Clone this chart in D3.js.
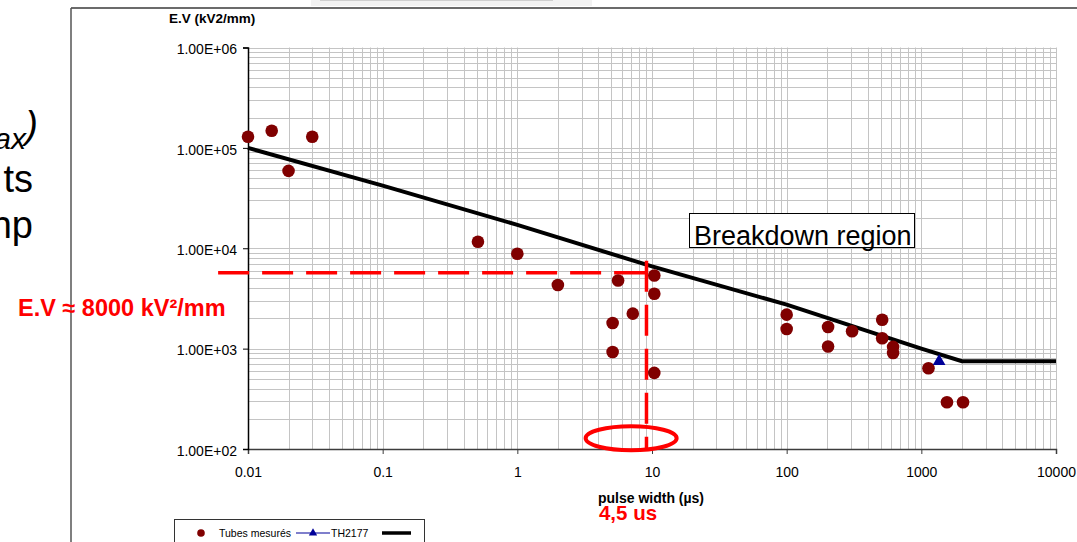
<!DOCTYPE html>
<html>
<head>
<meta charset="utf-8">
<script src="https://cdn.jsdelivr.net/npm/d3@7"></script>
<style>
  html, body { margin: 0; padding: 0; background: #fff; }
  svg { display: block; font-family: "Liberation Sans", Arial, sans-serif; }
</style>
</head>
<body>
<svg id="chart" width="1077" height="542"></svg>
<script>
// ---- data ----
const tubesX = [0.01, 0.015, 0.02, 0.03, 0.51, 1, 2.0, 5.6, 10.4, 10.4, 7.2, 5.1, 5.1, 10.4,
                100, 100, 203, 203, 306, 512, 512, 617, 617, 1130, 1550, 2040];
const tubesY = [1.29e5, 1.48e5, 5.9e4, 1.29e5, 1.16e4, 8.8e3, 4.3e3, 4.78e3, 5.36e3, 3.52e3, 2.23e3, 1.8e3, 927, 573,
                2.18e3, 1.57e3, 1.64e3, 1.05e3, 1.49e3, 1.94e3, 1.27e3, 1.04e3, 906, 637, 292, 292];
const th2177X = [1355];
const th2177Y = [748];
const limitX = [0.01, 0.1, 1, 10, 100, 1000, 2000, 10000];
const limitY = [1e5, 4.2e4, 1.71e4, 6.6e3, 2.74e3, 1.0e3, 750, 750];
const xTickValues = [0.01, 0.1, 1, 10, 100, 1000, 10000];
const xTickLabels = ["0.01", "0.1", "1", "10", "100", "1000", "10000"];
const yTickValues = [1e2, 1e3, 1e4, 1e5, 1e6];
const yTickLabels = ["1.00E+02", "1.00E+03", "1.00E+04", "1.00E+05", "1.00E+06"];
// annotation values
const refEV = 5700;      // horizontal dashed level
const refStartX = 0.006; // dashed line starts left of axis
const refPulse = 9.1;    // vertical dashed position
const refBottomY = 100;
const ellipseCX = 7.0, ellipseCY = 128;

// ---- layout ----
const svg = d3.select("#chart");
const L = 248, R = 1056, T = 47.5, B = 449;
const x = d3.scaleLog().domain([0.01, 10000]).range([L, R]);
const y = d3.scaleLog().domain([100, 1e6]).range([B, T]);

// slide artifacts
svg.append("rect").attr("x", 311).attr("y", 0).attr("width", 281).attr("height", 6).attr("fill", "#f2f2f2");
svg.append("line").attr("x1", 320).attr("x2", 553).attr("y1", 0.5).attr("y2", 0.5).attr("stroke", "#cfcfcf");
svg.append("line").attr("x1", 71).attr("x2", 1077).attr("y1", 8).attr("y2", 8).attr("stroke", "#3a3a3a").attr("stroke-width", 1.5);
svg.append("line").attr("x1", 71).attr("x2", 71).attr("y1", 8).attr("y2", 542).attr("stroke", "#555").attr("stroke-width", 1.5);

// left slide text fragments
svg.append("text").attr("x", 26).attr("y", 149).attr("text-anchor", "end")
  .attr("font-size", 30).attr("font-style", "italic").attr("fill", "#000").text("ax");
svg.append("text").attr("x", 38).attr("y", 138).attr("text-anchor", "end")
  .attr("font-size", 38).attr("font-style", "italic").attr("fill", "#000").text(")");
svg.append("text").attr("x", 33).attr("y", 192).attr("text-anchor", "end")
  .attr("font-size", 38).attr("fill", "#000").text("ts");
svg.append("text").attr("x", 33).attr("y", 238).attr("text-anchor", "end")
  .attr("font-size", 38).attr("fill", "#000").text("np");

// grid
const minor = [];
for (let e = -2; e < 4; e++) for (let m = 1; m <= 9; m++) minor.push(m * Math.pow(10, e));
minor.push(10000);
const minorY = [];
for (let e = 2; e < 6; e++) for (let m = 1; m <= 9; m++) minorY.push(m * Math.pow(10, e));
minorY.push(1e6);
const grid = svg.append("g");
grid.selectAll(".gx").data(minor).join("line")
  .attr("x1", d => Math.round(x(d)) + 0.5).attr("x2", d => Math.round(x(d)) + 0.5)
  .attr("y1", T).attr("y2", B).attr("stroke", "#c4c4c4").attr("stroke-width", 1);
grid.selectAll(".gy").data(minorY).join("line")
  .attr("y1", d => Math.round(y(d)) + 0.5).attr("y2", d => Math.round(y(d)) + 0.5)
  .attr("x1", L).attr("x2", R).attr("stroke", "#c4c4c4").attr("stroke-width", 1);

// axes
const xAxis = d3.axisBottom(x).tickValues(xTickValues).tickSize(5).tickPadding(13)
  .tickFormat((d, i) => xTickLabels[i]);
const gx = svg.append("g").attr("transform", `translate(0,${B})`).call(xAxis);
gx.select(".domain").attr("stroke", "#3c3c3c").attr("stroke-width", 1.5);
gx.selectAll(".tick line").attr("stroke", "#3c3c3c");
gx.selectAll("text").attr("font-size", 14).attr("font-family", "Liberation Sans, Arial, sans-serif").attr("fill", "#000");

const yAxis = d3.axisLeft(y).tickValues(yTickValues).tickSize(5).tickPadding(6)
  .tickFormat((d, i) => yTickLabels[i]);
const gy = svg.append("g").attr("transform", `translate(${L},0)`).call(yAxis);
gy.select(".domain").attr("stroke", "#000").attr("stroke-width", 1.5);
gy.selectAll(".tick line").attr("stroke", "#000");
gy.selectAll("text").attr("font-size", 14).attr("dy", "0.45em").attr("font-family", "Liberation Sans, Arial, sans-serif").attr("fill", "#000");

// axis titles
svg.append("text").attr("x", 169).attr("y", 23).attr("font-size", 13.5).attr("font-weight", "bold").text("E.V (kV2/mm)");
svg.append("text").attr("x", 651).attr("y", 503).attr("text-anchor", "middle").attr("font-size", 14).attr("font-weight", "bold").text("pulse width (µs)");

// limit line
const lineGen = d3.line().x(d => x(d[0])).y(d => y(d[1]));
svg.append("path").datum(limitX.map((v, i) => [v, limitY[i]]))
  .attr("d", lineGen).attr("fill", "none").attr("stroke", "#000").attr("stroke-width", 4);

// red annotations (dashed lines)
svg.append("line").attr("x1", x(refStartX)).attr("x2", x(refPulse)).attr("y1", y(refEV)).attr("y2", y(refEV))
  .attr("stroke", "#ff0000").attr("stroke-width", 3.5).attr("stroke-dasharray", "31,13");
svg.append("line").attr("x1", x(refPulse)).attr("x2", x(refPulse)).attr("y1", y(refEV) - 12).attr("y2", y(refBottomY))
  .attr("stroke", "#ff0000").attr("stroke-width", 3.5).attr("stroke-dasharray", "31,13");

// scatter: Tubes mesurés
svg.append("g").selectAll("circle").data(tubesX.map((v, i) => [v, tubesY[i]])).join("circle")
  .attr("cx", d => x(d[0])).attr("cy", d => y(d[1])).attr("r", 6.3).attr("fill", "#800000");

// TH2177
const tri = d3.symbol().type(d3.symbolTriangle).size(70);
svg.append("g").selectAll("path").data(th2177X.map((v, i) => [v, th2177Y[i]])).join("path")
  .attr("d", tri).attr("transform", d => `translate(${x(d[0])},${y(d[1])})`).attr("fill", "#000099");

// ellipse
svg.append("ellipse").attr("cx", x(ellipseCX)).attr("cy", y(ellipseCY)).attr("rx", 45.5).attr("ry", 12)
  .attr("fill", "none").attr("stroke", "#ff0000").attr("stroke-width", 4);

// Breakdown region box
svg.append("rect").attr("x", 689.5).attr("y", 213.5).attr("width", 225).attr("height", 34)
  .attr("fill", "#fff").attr("stroke", "#000").attr("stroke-width", 1);
svg.append("text").attr("x", 694).attr("y", 245).attr("font-size", 27).attr("fill", "#000").text("Breakdown region");

// red texts
svg.append("text").attr("x", 18).attr("y", 316).attr("font-size", 23.5).attr("font-weight", "bold").attr("fill", "#ff0000")
  .text("E.V ≈ 8000 kV²/mm");
svg.append("text").attr("x", 628).attr("y", 520).attr("text-anchor", "middle").attr("font-size", 20.5).attr("font-weight", "bold").attr("fill", "#ff0000")
  .text("4,5 us");

// legend
const lg = svg.append("g");
lg.append("rect").attr("x", 174.5).attr("y", 519.5).attr("width", 250).attr("height", 40).attr("fill", "#fff").attr("stroke", "#333");
lg.append("circle").attr("cx", 201).attr("cy", 533).attr("r", 3.8).attr("fill", "#800000");
lg.append("text").attr("x", 219).attr("y", 537).attr("font-size", 10.5).attr("fill", "#000").text("Tubes mesurés");
lg.append("line").attr("x1", 296).attr("x2", 330).attr("y1", 533).attr("y2", 533).attr("stroke", "#000099").attr("stroke-width", 1.2);
lg.append("path").attr("d", d3.symbol().type(d3.symbolTriangle).size(30)).attr("transform", "translate(313,533)").attr("fill", "#000099");
lg.append("text").attr("x", 331).attr("y", 537).attr("font-size", 10.5).attr("fill", "#000").text("TH2177");
lg.append("line").attr("x1", 382).attr("x2", 411).attr("y1", 533).attr("y2", 533).attr("stroke", "#000").attr("stroke-width", 3.5);
</script>
</body>
</html>
